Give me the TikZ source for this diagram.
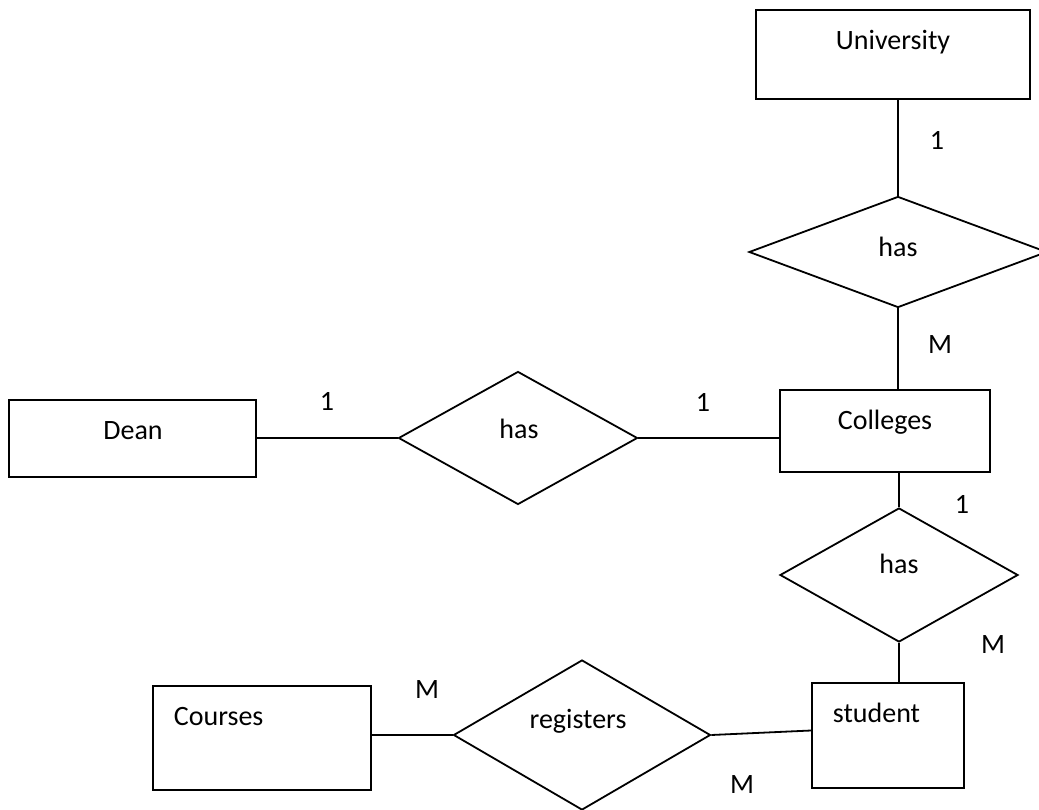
\documentclass[tikz,border=0pt]{standalone}
\usepackage{fontspec}
\setmainfont{Carlito}
\usetikzlibrary{shapes.geometric}

\tikzset{
    entity/.style={draw, rectangle, inner sep=0pt},
    relation/.style={draw, diamond, inner sep=0pt},
    lbl/.style={anchor=base, inner sep=0pt},
    card/.style={anchor=base, inner sep=0pt}
}

\begin{document}
\begin{tikzpicture}[x=1pt, y=-1pt, line width=1.8pt, font=\fontsize{28}{34}\selectfont]
    \useasboundingbox (0,0) rectangle (1039,810);

    % Entities
    \node[entity, minimum width=274pt, minimum height=89pt] (univ) at (893,54.5) {};
    \node[entity, minimum width=247pt, minimum height=77pt] (dean) at (132.5,438.5) {};
    \node[entity, minimum width=210pt, minimum height=82pt] (coll) at (885,431) {};
    \node[entity, minimum width=218pt, minimum height=104pt] (courses) at (262,738) {};
    \node[entity, minimum width=152pt, minimum height=105pt] (student) at (888,735.5) {};

    % Relations
    \node[relation, minimum width=298pt, minimum height=111pt] (hasuc) at (898,252) {};
    \node[relation, minimum width=239pt, minimum height=133pt] (hasdc) at (518,438) {};
    \node[relation, minimum width=238pt, minimum height=134pt] (hascs) at (899,575) {};
    \node[relation, minimum width=257pt, minimum height=150pt] (reg) at (582,735) {};

    % Texts
    \node[lbl] (univ-txt) at (893,50) {University};
    \node[lbl] (dean-txt) at (133,439) {Dean};
    \node[lbl] (coll-txt) at (885,429) {Colleges};
    \node[lbl, anchor=base west] (courses-txt) at (173,725) {Courses};
    \node[lbl, anchor=base west] (student-txt) at (832,722) {student};
    \node[lbl] (hasuc-txt) at (898,257) {has};
    \node[lbl] (hasdc-txt) at (519,438) {has};
    \node[lbl] (hascs-txt) at (899,573) {has};
    \node[lbl] (reg-txt) at (578,728) {registers};

    % Connectors
    \draw (hasuc.north) -- (hasuc.north |- univ.south);
    \draw (hasuc.south) -- (hasuc.south |- coll.north);
    \draw (hasdc.west) -- (hasdc.west -| dean.east);
    \draw (hasdc.east) -- (hasdc.east -| coll.west);
    \draw (hascs.north) -- (hascs.north |- coll.south);
    \draw (hascs.south) -- (hascs.south |- student.north);
    \draw (reg.west) -- (reg.west -| courses.east);
    \draw (reg.east) -- ([yshift=5pt]student.west);

    % Cardinalities
    \node[card] (c1) at (937,150) {1};
    \node[card] (c2) at (940,354) {M};
    \node[card] (c3) at (327,410) {1};
    \node[card] (c4) at (703,411) {1};
    \node[card] (c5) at (962,513) {1};
    \node[card] (c6) at (993,653) {M};
    \node[card] (c7) at (427,698) {M};
    \node[card] (c8) at (742,793) {M};
\end{tikzpicture}
\end{document}
